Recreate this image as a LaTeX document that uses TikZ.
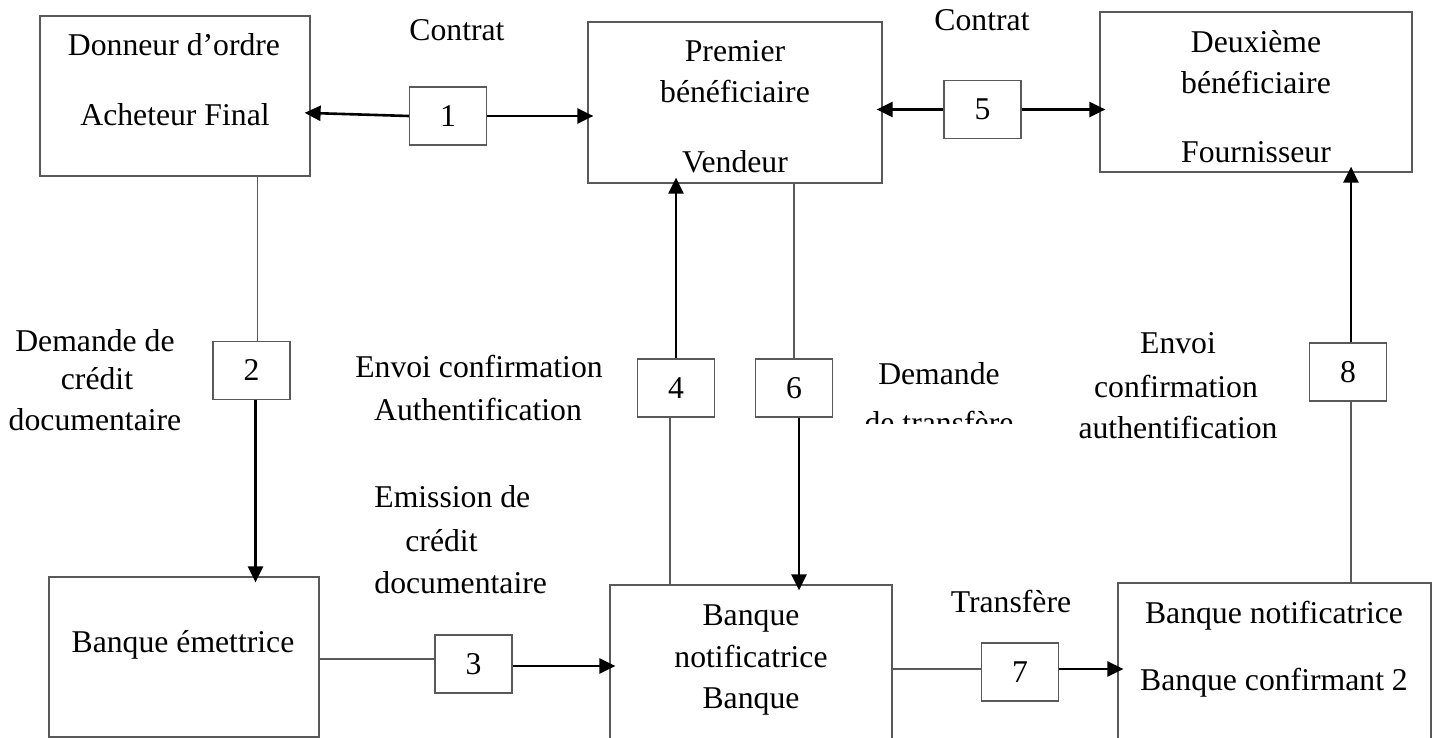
\documentclass[tikz,border=0pt]{standalone}
\usepackage{fontspec}
\setmainfont{Liberation Serif}
\usetikzlibrary{arrows.meta,fit}

\tikzset{
  txt/.style={anchor=base, inner sep=0pt, font=\fontsize{15.85pt}{19pt}\selectfont},
  txtl/.style={txt, anchor=base west},
  bigbox/.style={draw=black!65, line width=0.6pt, inner sep=0pt},
  numbox/.style={draw=black!65, line width=0.6pt, inner sep=0pt,
    minimum width=38.5pt, minimum height=29pt,
    font=\fontsize{15.85pt}{19pt}\selectfont},
  link/.style={draw=black!65, line width=0.55pt},
  flow/.style={draw=black, line width=1.3pt,
    -{Triangle[length=8pt,width=7.5pt]}, shorten >=-3pt},
}

\begin{document}
\begin{tikzpicture}[x=0.5pt, y=-0.5pt]
\useasboundingbox (0,0) rectangle (1437,738);
\clip (0,0) rectangle (1437,738);

% ---- parties ----
\node[bigbox, fit={(40,16) (310,176)}]    (A)  {};
\node[bigbox, fit={(588,22) (882,183)}]   (B)  {};
\node[bigbox, fit={(1100,12) (1412,172)}] (C)  {};
\node[bigbox, fit={(49,577) (319,737)}]   (BE) {};
\node[bigbox, fit={(610,585) (892,760)}]  (D)  {};
\node[bigbox, fit={(1118,583) (1431,760)}] (E) {};

\node[txt] (a1) at (174,56)  {Donneur d’ordre};
\node[txt] (a2) at (175,126) {Acheteur Final};

\node[txt] (p1) at (735,62)  {Premier};
\node[txt] (p2) at (735,103) {bénéficiaire};
\node[txt] (p3) at (735,173) {Vendeur};

\node[txt] (c1) at (1256,53)  {Deuxième};
\node[txt] (c2) at (1256,94)  {bénéficiaire};
\node[txt] (c3) at (1256,163) {Fournisseur};

\node[txt] (be1) at (183,652) {Banque émettrice};

\node[txt] (d1) at (751,625) {Banque};
\node[txt] (d2) at (751,667) {notificatrice};
\node[txt] (d3) at (751,708) {Banque};

\node[txt] (e1) at (1274,623) {Banque notificatrice};
\node[txt] (e2) at (1274,690) {Banque confirmant 2};

% ---- step numbers ----
\node[numbox] (n1) at (448,116)    {1};
\node[numbox] (n2) at (251.5,370.5) {2};
\node[numbox] (n3) at (473.5,664)  {3};
\node[numbox] (n4) at (676,388)    {4};
\node[numbox] (n5) at (982.5,109.5) {5};
\node[numbox] (n6) at (794,388)    {6};
\node[numbox] (n7) at (1020,672)   {7};
\node[numbox] (n8) at (1348,372)   {8};

% ---- step labels ----
\node[txt] (l1) at (457,41) {Contrat};
\node[txt] (l5) at (982,31) {Contrat};

\node[txt] (l2a) at (95,351) {Demande de};
\node[txt] (l2b) at (97,389) {crédit};
\node[txt] (l2c) at (95,430) {documentaire};

\node[txtl] (l3a) at (374,507) {Emission de};
\node[txtl] (l3b) at (405,551) {crédit};
\node[txtl] (l3c) at (374,593) {documentaire};

\node[txt] (l4a) at (479,378) {Envoi confirmation};
\node[txt] (l4b) at (478,420) {Authentification};

\node[txt] (l6a) at (939,384) {Demande};
\begin{scope}
  \clip (840,395) rectangle (1040,423);
  \node[txt] (l6b) at (939,433) {de transfère};
\end{scope}

\node[txt] (l7) at (1011,612) {Transfère};

\node[txt] (l8a) at (1178,353) {Envoi};
\node[txt] (l8b) at (1176,397) {confirmation};
\node[txt] (l8c) at (1178,438) {authentification};

% ---- connectors ----
% 1: contract between buyer and first beneficiary
\draw[flow] (n1.west) -- ([yshift=1.5pt]n1.west -| A.east);
\draw[flow] (n1.east) -- (n1.east -| B.west);
% 5: contract between first and second beneficiary
\draw[flow] (n5.west) -- (n5.west -| B.east);
\draw[flow] (n5.east) -- (n5.east -| C.west);
% 2: application for the documentary credit
\draw[link] ([xshift=3pt]n2.north) -- ([xshift=3pt]n2.north |- A.south);
\draw[flow] ([xshift=2pt]n2.south) -- ([xshift=2pt]n2.south |- BE.north);
% 3: issuing of the credit
\draw[link] ([yshift=2.5pt]n3.west) -- ([yshift=2.5pt]n3.west -| BE.east);
\draw[flow] ([yshift=-1pt]n3.east) -- ([yshift=-1pt]n3.east -| D.west);
% 4: confirmation to the first beneficiary
\draw[link] ([xshift=-3pt]n4.south) -- ([xshift=-3pt]n4.south |- D.north);
\draw[flow] (n4.north) -- (n4.north |- B.south);
% 6: transfer request
\draw[link] (n6.north) -- (n6.north |- B.south);
\draw[flow] ([xshift=2.5pt]n6.south) -- ([xshift=2.5pt]n6.south |- D.north);
% 7: transfer to the second bank
\draw[link] ([yshift=1.5pt]n7.west) -- ([yshift=1.5pt]n7.west -| D.east);
\draw[flow] ([yshift=1.5pt]n7.east) -- ([yshift=1.5pt]n7.east -| E.west);
% 8: confirmation to the second beneficiary
\draw[link] ([xshift=1.5pt]n8.south) -- ([xshift=1.5pt]n8.south |- E.north);
\draw[flow] ([xshift=1.5pt]n8.north) -- ([xshift=1.5pt]n8.north |- C.south);
\end{tikzpicture}
\end{document}
